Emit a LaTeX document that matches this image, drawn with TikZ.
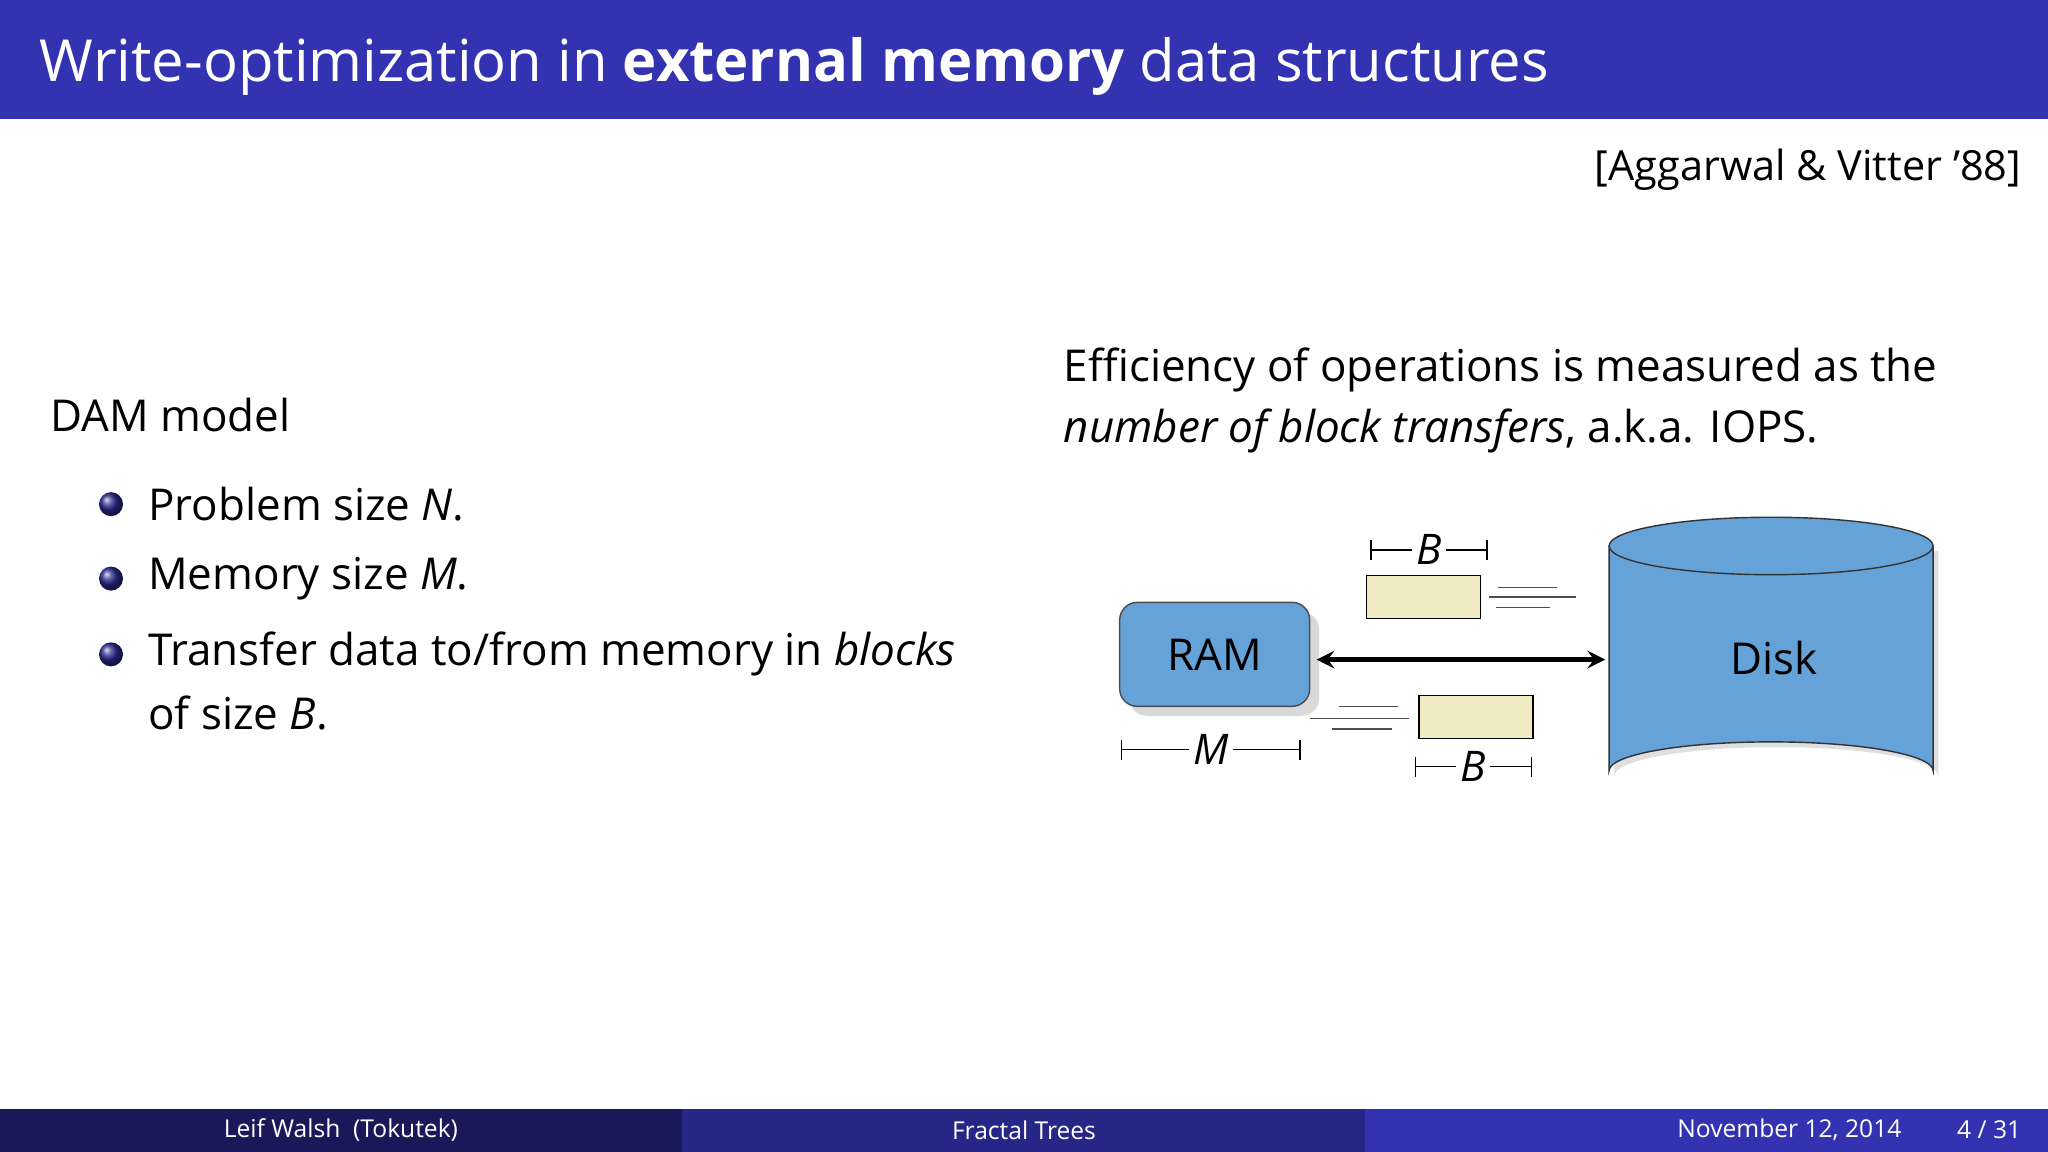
\documentclass[tikz,border=0pt]{standalone}
\usepackage{fontspec}
\setmainfont{Open Sans}
\usepackage{tikz}
\usetikzlibrary{shapes.geometric, arrows, positioning, shadows}
\definecolor{beamerblue}{RGB}{51,51,178}
\definecolor{footdark}{RGB}{25,25,90}
\definecolor{footmid}{RGB}{38,38,134}
\definecolor{ramblue}{RGB}{100,162,216}
\definecolor{blockfill}{RGB}{240,235,195}
\tikzstyle{body} = [anchor=west, inner sep=0pt, font=\fontsize{12.5}{15}\selectfont]
\tikzstyle{item} = [circle, inner sep=0pt, minimum size=0.24cm, ball color=beamerblue!80!black]
\tikzstyle{ram} = [rectangle, rounded corners=5pt, draw=black!70, fill=ramblue, minimum width=1.9cm, minimum height=1.04cm, font=\fontsize{12.5}{15}\selectfont, drop shadow={opacity=0.3}]
\tikzstyle{block} = [rectangle, draw=black, fill=blockfill, minimum width=1.14cm, minimum height=0.43cm]
\tikzstyle{dimlabel} = [inner sep=1pt, font=\itshape\fontsize{12}{14}\selectfont]
\tikzstyle{dim} = [thin]
\tikzstyle{foot} = [text=white, font=\fontsize{7}{8}\selectfont]
\tikzstyle{arrow} = [very thick,<->,>=stealth]
\begin{document}
\begin{tikzpicture}[x=0.01306cm, y=-0.01306cm]
\useasboundingbox (0,0) rectangle (1568,882);

% title bar
\fill [beamerblue] (0,0) rectangle (1568,91);
\node (title) [anchor=west, inner sep=0pt, text=white, font=\fontsize{16.5}{20}\selectfont] at (30,51) {Write-optimization in \textbf{external memory} data structures};
\node (cite) [anchor=east, inner sep=0pt, font=\fontsize{11.8}{14}\selectfont] at (1548,130) {[Aggarwal \& Vitter ’88]};

% left column
\node (dam) [body] at (38,318) {DAM model};
\node (b1) [item] at (85,386) {};
\node (b2) [item] at (85,443) {};
\node (b3) [item] at (85,501) {};
\node (t1) [body] at (113,386) {Problem size \textit{N}.};
\node (t2) [body] at (113,443) {Memory size \textit{M}.};
\node (t3) [body] at (113,501) {Transfer data to/from memory in \textit{blocks}};
\node (t4) [body] at (113,546) {of size \textit{B}.};

% right column
\node (eff1) [body] at (814,283) {Efficiency of operations is measured as the};
\node (eff2) [body] at (814,330) {\textit{number of block transfers}, a.k.a. IOPS.};

% RAM and disk
\node (ram) [ram] at (930,501) {RAM};
\fill [black!25, opacity=0.5] (1236,422) -- (1236,594) arc (180:360:124 and 22) -- (1484,422) -- cycle;
\filldraw [draw=black!80, fill=ramblue] (1232,418) -- (1232,590) arc (180:360:124 and 22) -- (1480,418) -- cycle;
\filldraw [draw=black!80, fill=ramblue] (1356,418) ellipse (124 and 22);
\node (disk) [font=\fontsize{12.5}{15}\selectfont] at (1358,504) {Disk};
\coordinate (ramout) at (1008,505);
\coordinate (diskin) at (1229,505);
\draw [arrow] (ramout) -- (diskin);

% blocks
\node (blk1) [block] at (1090,457) {};
\node (blk2) [block] at (1130,549) {};
\foreach \y/\a/\b in {450/1147/1192, 457/1140/1207, 465/1145/1187}
  \draw [black!70] (\a,\y) -- (\b,\y);
\foreach \y/\a/\b in {541/1025/1070, 550/1003/1079, 558/1020/1066}
  \draw [black!70] (\a,\y) -- (\b,\y);

% dimensions
\node (dB1) [dimlabel] at (1094,421) {B};
\draw [dim, |-] (1049,421) -- (dB1);
\draw [dim, -|] (dB1) -- (1139,421);
\node (dB2) [dimlabel] at (1128,587) {B};
\draw [dim, |-] (1083,587) -- (dB2);
\draw [dim, -|] (dB2) -- (1173,587);
\node (dM) [dimlabel] at (927,574) {M};
\draw [dim, |-] (858,574) -- (dM);
\draw [dim, -|] (dM) -- (996,574);

% footer
\fill [footdark] (0,849) rectangle (522,882);
\fill [footmid] (522,849) rectangle (1045,882);
\fill [beamerblue] (1045,849) rectangle (1568,882);
\node (author) [foot] at (261,865) {Leif Walsh\ \ (Tokutek)};
\node (talk) [foot] at (784,865) {Fractal Trees};
\node (date) [foot] at (1370,865) {November 12, 2014};
\node (page) [foot] at (1523,865) {4 / 31};
\end{tikzpicture}
\end{document}
